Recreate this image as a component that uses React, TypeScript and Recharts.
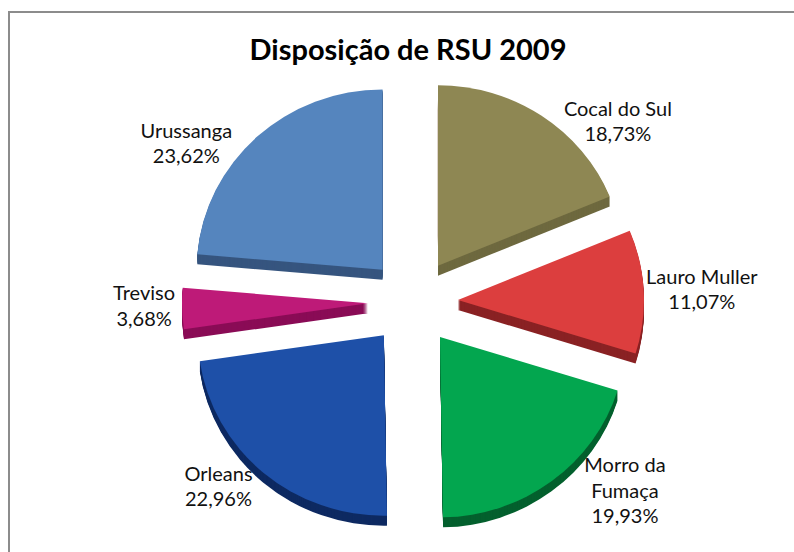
import { PieChart, Pie, Cell, Sector } from 'recharts';

// municipalities, clockwise from 12 o'clock
const NAMES = ['Cocal do Sul', 'Lauro Muller', 'Morro da Fumaça', 'Orleans', 'Treviso', 'Urussanga'];
// share of RSU disposal (%)
const SHARES = [18.73, 11.07, 19.93, 22.96, 3.68, 23.62];

const TOP_COLORS = ['#8E8753', '#DC3E3E', '#03A64F', '#1E50A8', '#BE1A78', '#5585BE'];
const SIDE_COLORS = ['#6E693F', '#8A2224', '#04602E', '#0E2A62', '#8A0C56', '#36557F'];

// label placement: angle shift from slice middle (deg, clockwise) and distance from pie centre
const LABEL_TWEAK = [
  { da: 15.4, r: 271 },
  { da: 0.8, r: 289 },
  { da: -11, r: 286 },
  { da: 5.7, r: 270 },
  { da: 0.2, r: 269 },
  { da: -13, r: 275 },
];
const LABEL_DY = -4;

const EXPLODE = 45;
const DEPTH = 10;
const SQUASH = 0.97; // slight tilt of the 3D pie
const RAD = Math.PI / 180;
const FONT = 'Lato, "Open Sans", sans-serif';

const data = NAMES.map((name, i) => ({ name, value: SHARES[i], idx: i }));

const fmt = (v: number) => v.toFixed(2).replace('.', ',') + '%';

const wrapName = (name: string) => {
  if (name.length <= 13) return [name];
  const cut = name.lastIndexOf(' ');
  return [name.slice(0, cut), name.slice(cut + 1)];
};

// draws exploded 3D slice + its label (the pie's own sectors stay invisible)
const SliceAndLabel = (props: any) => {
  const { cx, cy, midAngle, innerRadius, outerRadius, startAngle, endAngle, payload, index } = props;
  const i = payload?.idx ?? index;
  const ox = cx + EXPLODE * Math.cos(-midAngle * RAD);
  const oy = cy + EXPLODE * Math.sin(-midAngle * RAD) * SQUASH;

  const sides = [];
  for (let k = DEPTH; k >= 1; k--) {
    sides.push(
      <Sector
        key={k}
        cx={ox}
        cy={oy + k / SQUASH}
        innerRadius={innerRadius}
        outerRadius={outerRadius}
        startAngle={startAngle}
        endAngle={endAngle}
        fill={SIDE_COLORS[i]}
        stroke="none"
      />
    );
  }

  // label position: clockwise-from-top angle
  const t = LABEL_TWEAK[i];
  const clock = 90 - midAngle + t.da;
  const lx = cx + t.r * Math.sin(clock * RAD);
  const ly = cy - t.r * Math.cos(clock * RAD) + LABEL_DY;
  const lines = [...wrapName(payload.name), fmt(payload.value)];
  const lh = 25.5;

  return (
    <g>
      <g transform={`translate(0 ${oy}) scale(1 ${SQUASH}) translate(0 ${-oy})`}>
        {sides}
        <Sector
          cx={ox}
          cy={oy}
          innerRadius={innerRadius}
          outerRadius={outerRadius}
          startAngle={startAngle}
          endAngle={endAngle}
          fill={TOP_COLORS[i]}
          stroke="none"
        />
      </g>
      <text textAnchor="middle" fontFamily={FONT} fontSize={20} fill="#111">
        {lines.map((ln, j) => (
          <tspan key={j} x={lx} y={ly + (j - (lines.length - 1) / 2) * lh} dominantBaseline="central">
            {ln}
          </tspan>
        ))}
      </text>
    </g>
  );
};

export default function App() {
  return (
    <div style={{ position: 'absolute', left: 0, top: 0, width: 794, height: 552, background: '#fff' }}>
      <div
        style={{
          position: 'absolute',
          left: 8,
          top: 11,
          width: 786,
          height: 541,
          borderTop: '2px solid #8C8C8C',
          borderLeft: '2px solid #8C8C8C',
          boxSizing: 'border-box',
        }}
      />
      <div
        style={{
          position: 'absolute',
          left: 108,
          top: 31,
          width: 600,
          textAlign: 'center',
          fontFamily: FONT,
          fontWeight: 700,
          fontSize: 29,
          color: '#000',
        }}
      >
        Disposição de RSU 2009
      </div>
      <div style={{ position: 'absolute', left: 0, top: 0 }}>
        <PieChart width={794} height={552}>
          <Pie
            data={data}
            dataKey="value"
            nameKey="name"
            cx={408}
            cy={297}
            outerRadius={186}
            startAngle={90}
            endAngle={-270}
            stroke="none"
            label={SliceAndLabel}
            labelLine={false}
            isAnimationActive={false}
          >
            {data.map((d) => (
              <Cell key={d.name} fill="none" stroke="none" />
            ))}
          </Pie>
        </PieChart>
      </div>
    </div>
  );
}
